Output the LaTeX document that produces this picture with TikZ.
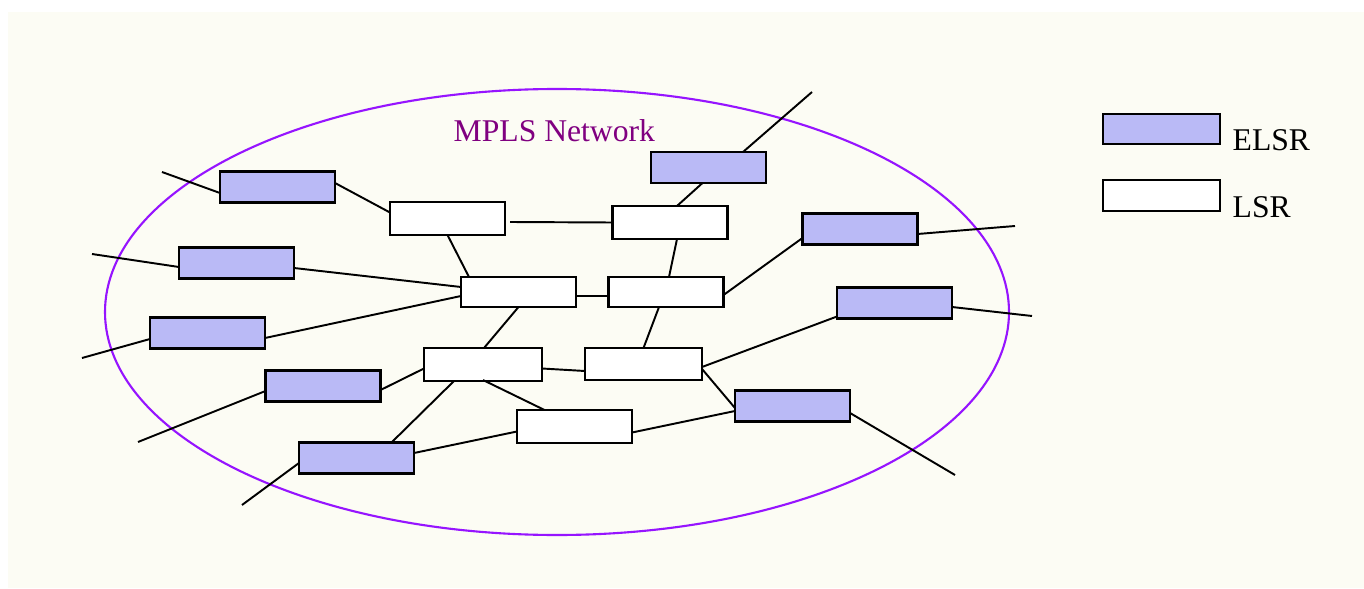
\documentclass[tikz,border=0pt]{standalone}
\usepackage{fontspec}
\setmainfont{Liberation Serif}
\usetikzlibrary{calc}
\definecolor{paper}{RGB}{252,252,244}
\definecolor{elsrfill}{RGB}{186,186,246}
\definecolor{netline}{RGB}{150,20,255}
\definecolor{nettext}{RGB}{128,0,128}
\tikzset{
  router/.style={draw=black, line width=0.8pt, minimum width=1.15cm,
    minimum height=0.31cm, inner sep=0pt, outer sep=0pt},
  edge/.style={router, fill=elsrfill},
  core/.style={router, fill=white},
  link/.style={draw=black, line width=0.55pt},
  label/.style={font=\fontsize{9}{10}\selectfont, inner sep=0pt, anchor=base west}
}
\begin{document}
\begin{tikzpicture}[x=0.01cm, y=-0.01cm]
  \useasboundingbox (0,0) rectangle (1364,588);
  \fill[paper] (8,12) rectangle (1364,588);

  % network boundary and its caption
  \draw[netline, line width=0.6pt] (557,312) ellipse [x radius=452, y radius=223];
  \node[label, text=nettext] (title) at (453,142) {MPLS Network};

  % edge routers
  \node[edge] (E1) at (277.5,187) {};
  \node[edge] (E2) at (236.5,263) {};
  \node[edge] (E3) at (207.5,333) {};
  \node[edge] (E4) at (323,386) {};
  \node[edge] (E5) at (356.5,458) {};
  \node[edge] (E6) at (708.5,167.5) {};
  \node[edge] (E7) at (860,229) {};
  \node[edge] (E8) at (894.5,303) {};
  \node[edge] (E9) at (792.5,406) {};

  % core routers
  \node[core, minimum height=0.33cm] (L1) at (447.5,218.5) {};
  \node[core, minimum height=0.33cm] (L2) at (670,222.5) {};
  \node[core, minimum height=0.30cm] (L3) at (518.5,292) {};
  \node[core, minimum height=0.30cm] (L4) at (666,292) {};
  \node[core, minimum width=1.18cm, minimum height=0.33cm] (L5) at (483,364.5) {};
  \node[core, minimum width=1.17cm, minimum height=0.32cm] (L6) at (643.5,364) {};
  \node[core, minimum height=0.33cm] (L7) at (574.5,426.5) {};

  % outside ends of the access links
  \coordinate (X1) at (162,172);
  \coordinate (X2) at (92,254);
  \coordinate (X3) at (82,358);
  \coordinate (X4) at (138,442);
  \coordinate (X5) at (242,505);
  \coordinate (X6) at (812,92);
  \coordinate (X7) at (1015,226);
  \coordinate (X8) at (1032,316);
  \coordinate (X9) at (955,475);

  % access links
  \draw[link] (X1) -- ($(E1.west)+(0,6)$);
  \draw[link] (X2) -- ($(E2.west)+(0,4)$);
  \draw[link] (X3) -- ($(E3.west)+(0,6)$);
  \draw[link] (X4) -- ($(E4.west)+(0,5)$);
  \draw[link] (X5) -- ($(E5.west)+(0,5)$);
  \draw[link] ($(E6.north)+(34.5,0)$) -- (X6);
  \draw[link] ($(E7.east)+(0,5)$) -- (X7);
  \draw[link] ($(E8.east)+(0,4)$) -- (X8);
  \draw[link] ($(E9.east)+(0,7)$) -- (X9);

  % edge-to-core links
  \draw[link] ($(E1.east)+(0,-4)$) -- ($(L1.west)+(0,-6)$);
  \draw[link] ($(E2.east)+(0,5)$) -- ($(L3.west)+(0,-5)$);
  \draw[link] ($(E3.east)+(0,5)$) -- ($(L3.west)+(0,4)$);
  \draw[link] ($(E4.east)+(0,4)$) -- ($(L5.west)+(0,4)$);
  \draw[link] ($(E5.north)+(35,0)$) -- ($(L5.south)+(-29,0)$);
  \draw[link] ($(E5.east)+(0,-5)$) -- ($(L7.west)+(0,5)$);
  \draw[link] ($(L2.north)+(7,0)$) -- ($(E6.south)+(-6,0)$);
  \draw[link] ($(L4.east)+(0,3)$) -- ($(E7.west)+(0,9)$);
  \draw[link] ($(L6.east)+(0,3)$) -- ($(E8.south west)+(0,-2)$);
  \draw[link] ($(L6.east)+(0,5)$) -- ($(E9.west)+(0,2)$);
  \draw[link] ($(L7.east)+(0,6)$) -- ($(E9.west)+(0,5)$);

  % core links
  \draw[link] ($(L1.east)+(5,3.5)$) -- (L2.west);
  \draw[link] (L1.south) -- ($(L3.north west)+(8,0)$);
  \draw[link] ($(L2.south)+(7,0)$) -- ($(L4.north)+(3,0)$);
  \draw[link] ($(L3.east)+(0,4)$) -- ($(L4.west)+(0,4)$);
  \draw[link] (L3.south) -- ($(L5.north)+(1,0)$);
  \draw[link] ($(L4.south)+(-7,0)$) -- (L6.north);
  \draw[link] ($(L5.east)+(0,4)$) -- ($(L6.west)+(0,7)$);
  \draw[link] ($(L5.south)+(0,-1)$) -- ($(L7.north)+(-30,0)$);

  % legend
  \node[edge, minimum width=1.17cm, minimum height=0.30cm] (keyE) at (1161.5,129) {};
  \node[core, minimum width=1.17cm, minimum height=0.31cm] (keyL) at (1161.5,195.5) {};
  \node[label] (keyEtext) at (1232,150) {ELSR};
  \node[label] (keyLtext) at (1232,217) {LSR};
\end{tikzpicture}
\end{document}
